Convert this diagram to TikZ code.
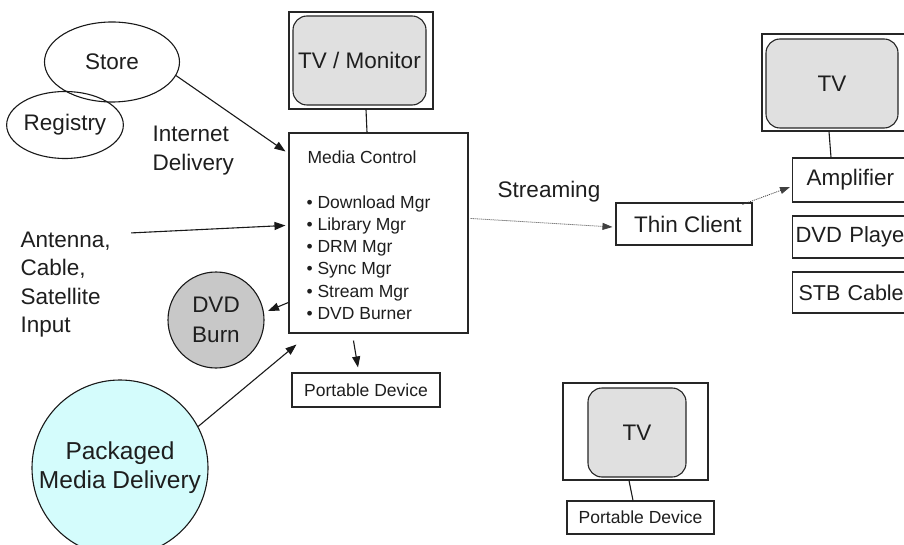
\documentclass[tikz,border=0pt]{standalone}
\usepackage{fontspec}
\setmainfont{Liberation Sans}
\usetikzlibrary{shapes.geometric,arrows.meta,calc}
\definecolor{scr}{RGB}{224,224,224}
\definecolor{burn}{RGB}{200,200,200}
\definecolor{pkg}{RGB}{212,252,252}
\definecolor{ink}{RGB}{30,30,30}
\begin{document}
\begin{tikzpicture}[x=1pt,y=-1pt,
  line width=1.1pt,
  every node/.style={text=ink},
  big/.style={font=\fontsize{22.5}{29}\selectfont},
  small/.style={font=\fontsize{17.5}{22}\selectfont},
  box/.style={draw=black!85, rectangle, inner sep=0pt},
  screen/.style={draw=black!85, fill=scr, rectangle, rounded corners=14pt, inner sep=0pt},
  oval/.style={draw=black!90, ellipse, inner sep=0pt},
  sidebox/.style={box, anchor=west, text width=160pt, align=left},
  arr/.style={-{Triangle[length=11pt,width=8pt]}, black!90},
  dotarr/.style={-{Triangle[length=10pt,width=7pt]}, line width=0.8pt, dash pattern=on 1pt off 1pt, black!75},
  ]
\clip (0,0) rectangle (904,545);
\fill[white] (0,0) rectangle (904,545);

% left side sources
\node[oval, minimum width=135pt, minimum height=80pt, big] (store) at (112,62) {Store};
\node[oval, minimum width=115pt, minimum height=67pt, big] (registry) at (65,125) {Registry};
\node[big, align=left, anchor=west, inner sep=0pt] (inet) at (152,151) {Internet\\Delivery};
\node[font=\fontsize{22.5}{28.5}\selectfont, align=left, anchor=west, inner sep=0pt] (antenna) at (20,284.8) {Antenna,\\Cable,\\Satellite\\Input};
\node[circle, draw=black!90, fill=burn, minimum size=96pt, inner sep=0pt, align=center, font=\fontsize{22.5}{30}\selectfont] (dvd) at (216,320) {DVD\\Burn};
\node[circle, draw=black!90, fill=pkg, minimum size=176pt, inner sep=0pt, align=center, font=\fontsize{24.5}{29}\selectfont] (pmd) at (120,468) {Packaged\\Media Delivery};

% TV / Monitor
\node[box, minimum width=144pt, minimum height=97pt] (tv1) at (361,60.5) {};
\node[screen, minimum width=133pt, minimum height=89pt, big] (tv1s) at (359.5,60.5) {TV / Monitor};

% Media control
\node[box, minimum width=179pt, minimum height=200pt] (mc) at (378.5,233) {};
\node[small, anchor=west, inner sep=0pt, text height=12.5pt, text depth=0pt] (mctitle) at (307,157) {Media Control};
\foreach \t [count=\i] in {Download Mgr, Library Mgr, DRM Mgr, Sync Mgr, Stream Mgr, DVD Burner}
  \node[small, anchor=west, inner sep=0pt, text height=12.5pt, text depth=0pt] (b\i) at (306,{202+(\i-1)*22.2}) {• \t};

\node[box, minimum width=148pt, minimum height=34pt, small] (pd1) at (366,390) {Portable Device};

% streaming side
\node[big, inner sep=0pt, anchor=base] (stream) at (549,198) {Streaming};
\node[box, minimum width=136pt, minimum height=42pt, big] (thin) at (684,224) {\hspace*{8pt}Thin Client};

\node[box, minimum width=144pt, minimum height=97pt] (tv2) at (834,82.5) {};
\node[screen, minimum width=132pt, minimum height=89pt, big] (tv2s) at (832,83.5) {TV};

\node[sidebox, minimum height=44pt, inner xsep=14pt, big] (amp) at (792,180) {Amplifier};
\node[sidebox, minimum height=42pt, inner xsep=3pt, font=\fontsize{22}{29}\selectfont] (dvdp) at (792,237) {DVD Playe};
\node[sidebox, minimum height=41pt, inner xsep=6pt, font=\fontsize{21.5}{29}\selectfont] (stb) at (792,292.5) {STB Cable};

% bottom TV
\node[box, minimum width=145pt, minimum height=97pt] (tv3) at (635.5,431.5) {};
\node[screen, minimum width=98pt, minimum height=89pt, big] (tv3s) at (637,432.5) {TV};
\node[box, minimum width=147pt, minimum height=33pt, small] (pd2) at (640.5,517.5) {Portable Device};

% connectors
\draw[arr] (store.-12) -- ($(mc.north west)+(-3,19)$);
\draw[arr] ($(antenna.north east)+(20,1.5)$) -- ($(mc.north west)+(-3,93)$);
\draw[arr] ($(mc.north west)+(0,170)$) -- ($(dvd.center)+(52,-9)$);
\draw[arr] ($(mc.south west)+(65,7)$) -- ($(pd1.north)+(-8,-5)$);
\draw[arr] (pmd.28) -- ($(mc.south west)+(8,11)$);
\draw[black!90] ($(tv1.south)+(5,0)$) -- ($(mc.north)+(-11.5,0)$);
\draw[dotarr] ($(mc.north east)+(2,86)$) -- ($(thin.west)+(-3,3)$);
\draw[dotarr] ($(thin.north east)+(-10,2)$) -- ($(amp.west)+(-2,7)$);
\draw[black!90] ($(tv2s.south)+(-3,3)$) -- ($(amp.north west)+(39,0)$);
\draw[black!90] ($(tv3.south)+(-6.5,0)$) -- ($(pd2.north)+(-7.5,0)$);
\end{tikzpicture}
\end{document}
